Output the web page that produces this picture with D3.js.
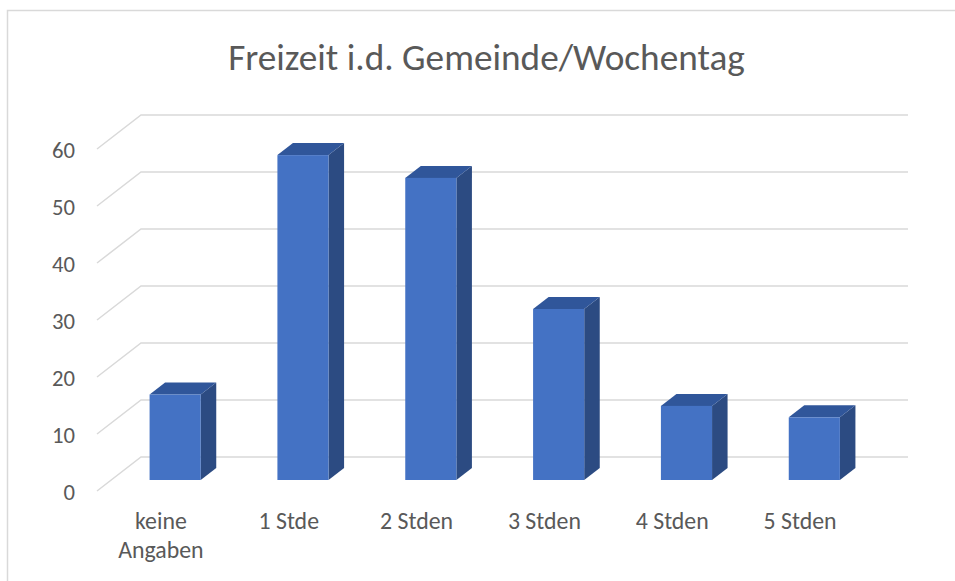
<!DOCTYPE html>
<html>
  <head>
    <title>Freizeit</title>
    <script type="text/javascript" src="https://cdn.jsdelivr.net/npm/d3@7"></script>
    <style type="text/css">
      body { margin: 0; background: #fff; }
      text { font-family: Calibri, Carlito, Lato, sans-serif; fill: #595959; }
    </style>
  </head>
  <body>
  <script type="text/javascript">

  var categories = ['keine Angaben', '1 Stde', '2 Stden', '3 Stden', '4 Stden', '5 Stden']
  var values = [15, 57, 53, 30, 13, 11]
  var ticks = [0, 10, 20, 30, 40, 50, 60]
  var title = 'Freizeit i.d. Gemeinde/Wochentag'

  var W = 955, H = 581
  var svg = d3.select('body').append('svg')
    .attr('width', W).attr('height', H)

  // chart border (runs off the right/bottom edge)
  svg.append('rect')
    .attr('x', 7.5).attr('y', 10.5)
    .attr('width', 1000).attr('height', 1000)
    .attr('fill', '#fff').attr('stroke', '#d9d9d9').attr('stroke-width', 1.5)

  // back wall scales
  var y = d3.scaleLinear().domain([0, 60]).range([457, 115])
  var x = d3.scaleBand().domain(categories).range([141, 908])
    .paddingInner(0.6).paddingOuter(0.3)

  // depth vector from back wall to front edge of floor
  var DX = -44, DY = 34
  var fFront = 23 / 34, fBack = 11 / 34

  // gridlines: back horizontal + diagonal on the left side wall
  var grid = svg.append('g').attr('stroke', '#d9d9d9').attr('stroke-width', 1.5).attr('fill', 'none')
  grid.selectAll('path').data(ticks).enter().append('path')
    .attr('d', function(d) {
      return 'M' + (141 + DX) + ',' + (y(d) + DY) + 'L141,' + y(d) + 'L908,' + y(d)
    })

  // tick labels
  svg.selectAll('.tick').data(ticks).enter().append('text')
    .attr('class', 'tick')
    .attr('x', 75).attr('y', function(d) { return y(d) + DY + 9 })
    .attr('text-anchor', 'end')
    .style('font-size', '21px')
    .text(function(d) { return d })

  // bars as 3D boxes
  var bars = svg.selectAll('.bar').data(values).enter().append('g').attr('class', 'bar')
  function face(i, v) {
    var x0 = x(categories[i]) + DX * fFront, w = x.bandwidth()
    var yb = y(0) + DY * fFront, yt = y(v) + DY * fFront
    var ox = DX * (fBack - fFront), oy = DY * (fBack - fFront)
    return { x0: x0, x1: x0 + w, yb: yb, yt: yt, ox: ox, oy: oy }
  }
  bars.append('path')
    .attr('fill', '#2c4b82')
    .attr('d', function(d, i) {
      var f = face(i, d)
      return 'M' + f.x1 + ',' + f.yb + 'L' + (f.x1 + f.ox) + ',' + (f.yb + f.oy) +
        'L' + (f.x1 + f.ox) + ',' + (f.yt + f.oy) + 'L' + f.x1 + ',' + f.yt + 'Z'
    })
  bars.append('path')
    .attr('fill', '#30569a')
    .attr('d', function(d, i) {
      var f = face(i, d)
      return 'M' + f.x0 + ',' + f.yt + 'L' + (f.x0 + f.ox) + ',' + (f.yt + f.oy) +
        'L' + (f.x1 + f.ox) + ',' + (f.yt + f.oy) + 'L' + f.x1 + ',' + f.yt + 'Z'
    })
  bars.append('rect')
    .attr('fill', '#4472c4')
    .attr('x', function(d, i) { return face(i, d).x0 })
    .attr('y', function(d, i) { return face(i, d).yt })
    .attr('width', x.bandwidth())
    .attr('height', function(d, i) { var f = face(i, d); return f.yb - f.yt })

  // category labels on the front edge
  var labels = svg.selectAll('.cat').data(categories).enter().append('text')
    .attr('class', 'cat')
    .attr('text-anchor', 'middle')
    .style('font-size', '21px')
  labels.each(function(d) {
    var t = d3.select(this)
    var cx = x(d) + x.bandwidth() / 2 + DX
    var lines = d === 'keine Angaben' ? ['keine', 'Angaben'] : [d]
    lines.forEach(function(s, k) {
      t.append('tspan').attr('x', cx).attr('y', 529 + k * 29).text(s)
    })
  })

  // title
  svg.append('text')
    .attr('x', 486.5).attr('y', 70)
    .attr('text-anchor', 'middle')
    .style('font-size', '36px')
    .text(title)

  // fit font sizes to the widths
  function fit(sel, target) {
    var n = sel.node(), fs = parseFloat(sel.style('font-size'))
    var w = n.getComputedTextLength()
    sel.style('font-size', (fs * target / w).toFixed(2) + 'px')
  }
  fit(svg.select('text:last-of-type'), 517)
  var ref = svg.selectAll('.tick').filter(function(d) { return d === 60 })
  fit(ref, 23)
  svg.selectAll('.tick').style('font-size', ref.style('font-size'))
  var c2 = svg.selectAll('.cat').filter(function(d) { return d === '2 Stden' })
  fit(c2, 73)
  svg.selectAll('.cat').style('font-size', c2.style('font-size'))

  </script>
  </body>
</html>
